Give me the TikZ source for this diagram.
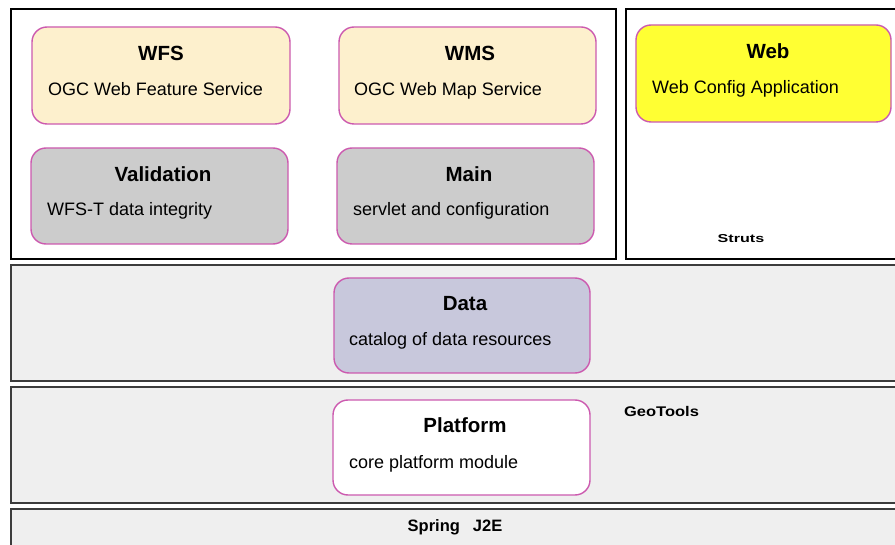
\documentclass[tikz,border=0pt]{standalone}
\usepackage{fontspec}
\setmainfont{Liberation Sans}
\definecolor{cream}{RGB}{253,240,205}
\definecolor{modgray}{RGB}{204,204,204}
\definecolor{datablue}{RGB}{200,200,220}
\definecolor{webyellow}{RGB}{255,255,51}
\definecolor{bandfill}{RGB}{239,239,239}
\definecolor{bandline}{RGB}{60,60,60}
\definecolor{modline}{RGB}{204,90,175}
\tikzset{
  frame/.style={draw=black, line width=2.4pt, fill=white},
  band/.style={draw=bandline, line width=2pt, fill=bandfill},
  module/.style={draw=modline, line width=1.4pt, rounded corners=15pt},
  modtitle/.style={anchor=base, inner sep=0pt, font=\fontsize{20.5}{24}\selectfont\bfseries},
  modtext/.style={anchor=base west, inner sep=0pt, font=\fontsize{18}{21}\selectfont},
  layertag/.style={anchor=base, inner sep=0pt, font=\fontsize{14}{16}\selectfont\bfseries},
}
\begin{document}
\begin{tikzpicture}[x=1pt, y=-1pt]
\clip (0,0) rectangle (895,545);
\fill[white] (0,0) rectangle (895,545);

% layer bands
\draw[band] (11,265) rectangle (900,381);
\draw[band] (11,387) rectangle (900,503);
\draw[band] (11,509) rectangle (900,560);

% upper containers
\draw[frame] (11,9) rectangle (616,259);
\draw[frame] (626,9) rectangle (900,259);

% modules
\draw[module, fill=cream] (32,27) rectangle (290,124);
\node[modtitle] (wfs) at (161,61) {WFS};
\node[modtext] (wfsd) at (48,96) {OGC Web Feature Service};

\draw[module, fill=cream] (339,27) rectangle (596,124);
\node[modtitle] (wms) at (470,61) {WMS};
\node[modtext] (wmsd) at (354,96) {OGC Web Map Service};

\draw[module, fill=modgray] (31,148) rectangle (288,244);
\node[modtitle] (val) at (163,182) {Validation};
\node[modtext] (vald) at (47,216) {WFS-T data integrity};

\draw[module, fill=modgray] (337,148) rectangle (594,244);
\node[modtitle] (main) at (469,182) {Main};
\node[modtext] (maind) at (353,216) {servlet and configuration};

\draw[module, fill=webyellow] (636,25) rectangle (891,122);
\node[modtitle] (web) at (768,59) {Web};
\node[modtext] (webd) at (652,94) {Web Config Application};

\draw[module, fill=datablue] (334,278) rectangle (590,373);
\node[modtitle] (data) at (465,311) {Data};
\node[modtext] (datad) at (349,346) {catalog of data resources};

\draw[module, fill=white] (333,400) rectangle (590,495);
\node[modtitle] (plat) at (465,433) {Platform};
\node[modtext] (platd) at (349,468) {core platform module};

% layer tags
\node[layertag, font=\fontsize{11.5}{13}\selectfont\bfseries, xscale=1.4] (struts) at (741,243) {Struts};
\node[layertag, xscale=1.18] (geotools) at (661.5,417) {GeoTools};
\node[layertag, font=\fontsize{16.5}{19}\selectfont\bfseries] (spring) at (455,531) {Spring\hspace{13pt}J2E};
\end{tikzpicture}
\end{document}
